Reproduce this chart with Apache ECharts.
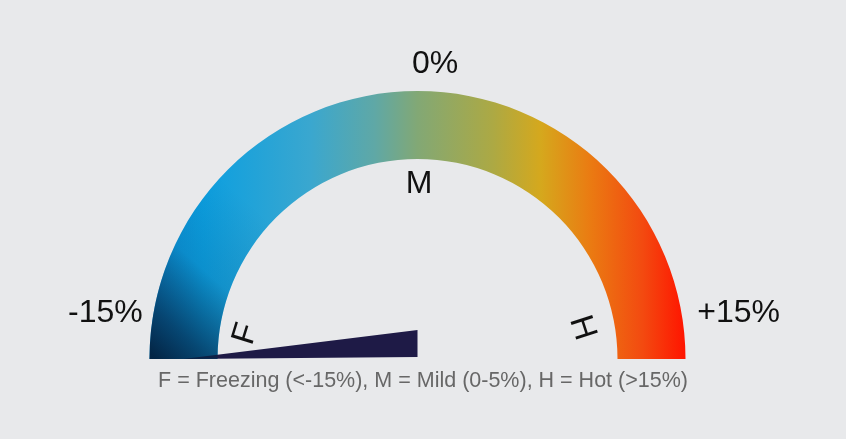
<!DOCTYPE html>
<html>
<head>
<meta charset="utf-8">
<script src="https://cdn.jsdelivr.net/npm/echarts@6/dist/echarts.min.js"></script>
<style>
  html, body { margin: 0; padding: 0; background: #e8e9eb; }
  #chart { width: 846px; height: 439px; }
</style>
</head>
<body>
<div id="chart"></div>
<script>
// Scale of the dial (percent change)
const scaleMin = -15;
const scaleMax = 15;
const tickLabels = ['-15%', '0%', '+15%'];

// Current reading shown by the needle
const needleValue = -15;

// Zone letters around the dial and the key underneath
const zoneLetters = ['F', 'M', 'H'];
const keyText = 'F = Freezing (<-15%), M = Mild (0-5%), H = Hot (>15%)';

// Colour ramp across the dial, cold (left) to hot (right)
const rampStops = [
  [0.00, '#0b8fd6'],
  [0.10, '#0c9fe0'],
  [0.30, '#3aa7cf'],
  [0.42, '#5fa8a6'],
  [0.50, '#82a875'],
  [0.64, '#aca944'],
  [0.73, '#d5a81d'],
  [0.82, '#ea7c12'],
  [0.92, '#f34a10'],
  [1.00, '#ff1400']
];

const FONT = '"Liberation Sans", Arial, Helvetica, sans-serif';
const CX = 417.5, CY = 359, R = 268, RING = 68;

const chart = echarts.init(document.getElementById('chart'), null, { renderer: 'canvas' });

const ramp = new echarts.graphic.LinearGradient(0, 0, 1, 0,
  rampStops.map(s => ({ offset: s[0], color: s[1] })));

// Deep shade at the cold end of the ring
const coldShade = new echarts.graphic.LinearGradient(0.9, 0.35, 0.05, 1, [
  { offset: 0.0, color: 'rgba(4,38,72,0)' },
  { offset: 0.45, color: 'rgba(4,38,72,0.12)' },
  { offset: 0.8, color: 'rgba(4,36,70,0.7)' },
  { offset: 1.0, color: 'rgba(3,32,62,0.95)' }
]);

const labelStyle = { fontFamily: FONT, fontSize: 32, color: '#111' };

const option = {
  backgroundColor: '#e8e9eb',
  animation: false,
  series: [
    {
      type: 'gauge',
      center: [CX, CY],
      radius: R,
      startAngle: 180,
      endAngle: 0,
      min: scaleMin,
      max: scaleMax,
      splitNumber: tickLabels.length - 1,
      axisLine: { lineStyle: { width: RING, color: [[1, ramp]] } },
      axisTick: { show: false },
      splitLine: { show: false, length: 0, distance: 0 },
      axisLabel: {
        distance: -94.5,
        formatter: function (v) {
          const i = Math.round((v - scaleMin) / (scaleMax - scaleMin) * (tickLabels.length - 1));
          const key = ['lo', 'mid', 'hi'][i];
          return '{' + key + '|' + tickLabels[i] + '}';
        },
        rich: {
          lo: Object.assign({ padding: [0, 0, 92, 13] }, labelStyle),
          mid: Object.assign({ padding: [52, 0, 0, 35] }, labelStyle),
          hi: Object.assign({ padding: [0, 0, 92, 0] }, labelStyle)
        }
      },
      pointer: {
        show: true,
        icon: 'path://M0 0L2 100L29 100Z',
        width: 29,
        length: 234.5,
        offsetCenter: [14.5, 0],
        itemStyle: { color: '#1e1a46' }
      },
      anchor: { show: false },
      title: { show: false },
      detail: { show: false },
      data: [{ value: needleValue }]
    },
    {
      type: 'gauge',
      center: [CX, CY],
      radius: R,
      startAngle: 180,
      endAngle: 130,
      min: 0,
      max: 1,
      silent: true,
      axisLine: { lineStyle: { width: RING, color: [[1, coldShade]] } },
      axisTick: { show: false },
      splitLine: { show: false },
      axisLabel: { show: false },
      pointer: { show: false },
      anchor: { show: false },
      title: { show: false },
      detail: { show: false },
      data: []
    }
  ],
  graphic: [
    {
      type: 'text', x: 246, y: 334, rotation: 73 * Math.PI / 180,
      style: { text: zoneLetters[0], font: '33px ' + FONT, fill: '#111', align: 'center', verticalAlign: 'middle' }
    },
    {
      type: 'text', x: 419, y: 184,
      style: { text: zoneLetters[1], font: '32px ' + FONT, fill: '#111', align: 'center', verticalAlign: 'middle' }
    },
    {
      type: 'text', x: 582, y: 328, rotation: -72 * Math.PI / 180,
      style: { text: zoneLetters[2], font: '33px ' + FONT, fill: '#111', align: 'center', verticalAlign: 'middle' }
    },
    {
      type: 'text', x: 423, y: 381,
      style: { text: keyText, font: '21.5px ' + FONT, fill: '#676767', align: 'center', verticalAlign: 'middle' }
    }
  ]
};

chart.setOption(option);
</script>
</body>
</html>
